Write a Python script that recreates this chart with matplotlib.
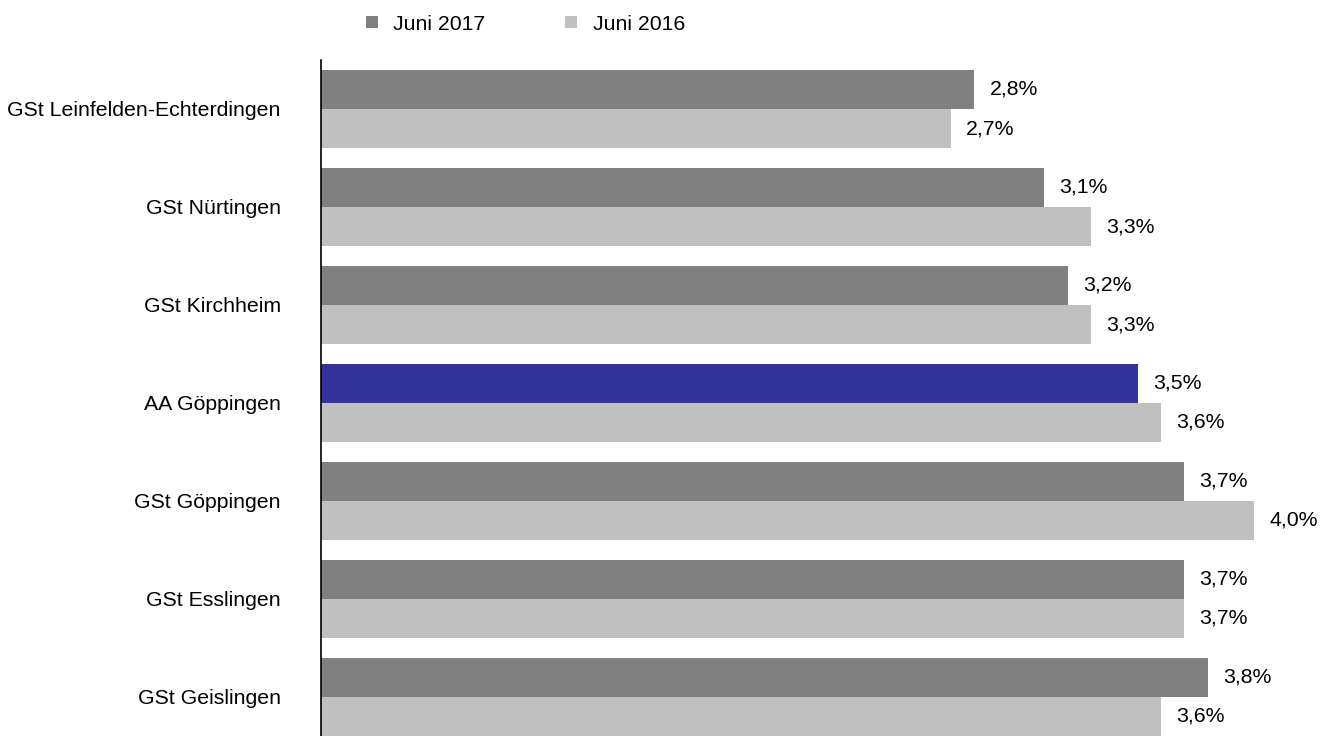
import matplotlib.pyplot as plt
from matplotlib.lines import Line2D
import numpy as np

plt.rcParams['font.family'] = ['Liberation Sans', 'DejaVu Sans']

# daten
standorte = ['GSt Leinfelden-Echterdingen', 'GSt Nürtingen', 'GSt Kirchheim',
             'AA Göppingen', 'GSt Göppingen', 'GSt Esslingen', 'GSt Geislingen']
juni_2017 = [2.8, 3.1, 3.2, 3.5, 3.7, 3.7, 3.8]
juni_2016 = [2.7, 3.3, 3.3, 3.6, 4.0, 3.7, 3.6]
hervorheben = 'AA Göppingen'

grau_dunkel = '#808080'
grau_hell = '#c0c0c0'
blau = '#333399'
fs = 15.3

fig = plt.figure(figsize=(13.32, 7.36), dpi=100)
ax = fig.add_axes([321/1332, 0.0, (1332-321)/1332, 676/736])

y = np.arange(len(standorte))
h = 0.4
farben = [blau if s == hervorheben else grau_dunkel for s in standorte]

b1 = ax.barh(y - h/2, juni_2017, height=h, color=farben)
b2 = ax.barh(y + h/2, juni_2016, height=h, color=grau_hell)

fmt = lambda werte: [f'{v:.1f}%'.replace('.', ',') for v in werte]
ax.bar_label(b1, labels=fmt(juni_2017), padding=11, fontsize=fs)
ax.bar_label(b2, labels=fmt(juni_2016), padding=11, fontsize=fs)

ax.set_xlim(0, 4.333)
ax.set_ylim(6.40, -0.5)
ax.set_yticks(y)
ax.set_yticklabels(standorte, fontsize=fs)
ax.set_xticks([])
ax.tick_params(axis='y', length=0, pad=29)
for s in ['top', 'right', 'bottom']:
    ax.spines[s].set_visible(False)
ax.spines['left'].set_linewidth(1.2)

griffe = [Line2D([], [], marker='s', linestyle='none', markersize=8, markeredgewidth=0, color=grau_dunkel),
          Line2D([], [], marker='s', linestyle='none', markersize=8, markeredgewidth=0, color=grau_hell)]
fig.legend(griffe, ['Juni 2017', 'Juni 2016'], loc='center left',
           bbox_to_anchor=(342/1332, 1 - 24/736), ncol=2, frameon=False,
           fontsize=fs, handlelength=1.0, handletextpad=0.52, columnspacing=3.53)

fig.savefig('out.png', dpi=100)
